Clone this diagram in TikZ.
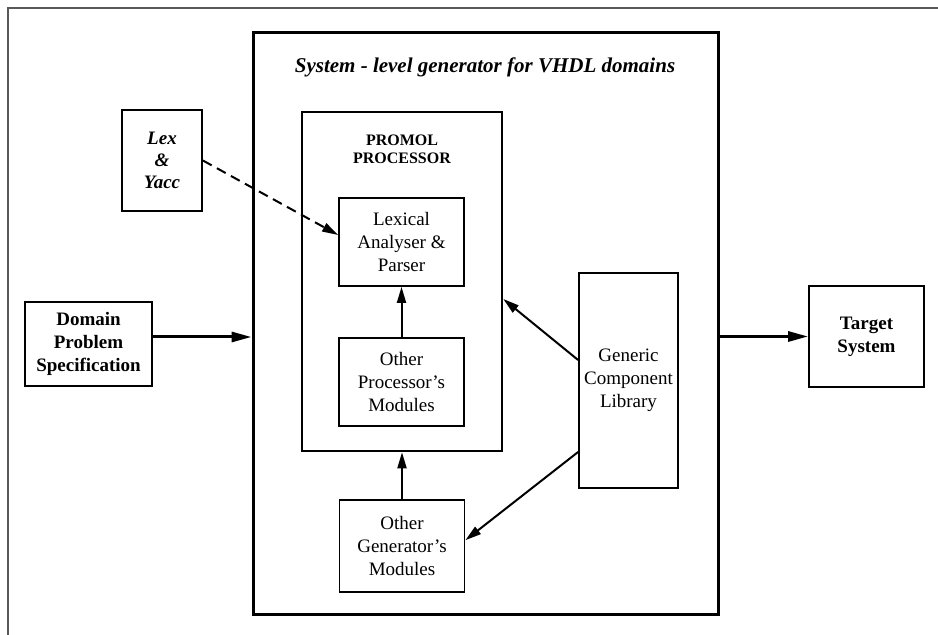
\documentclass[tikz,border=0pt]{standalone}
\usepackage{fontspec}
\setmainfont{Liberation Serif}
\usetikzlibrary{arrows.meta,positioning,calc}
\tikzset{
  basebox/.style={rectangle,draw=black,line width=0.9pt,align=center,
                  inner sep=2pt,font=\fontsize{9.5}{11.5}\selectfont},
  modnode/.style={basebox,minimum width=62.5pt,minimum height=44pt},
  boldnode/.style={basebox,font=\fontsize{9.5}{11.5}\selectfont\bfseries},
  toolnode/.style={basebox,font=\fontsize{9.5}{11}\selectfont\bfseries\itshape},
  sysbox/.style={rectangle,draw=black,line width=1.5pt},
  procbox/.style={rectangle,draw=black,line width=1.3pt},
  arr/.style={-{Triangle[length=8pt,width=4.5pt]},line width=1pt},
  thkarr/.style={-{Triangle[length=10pt,width=5pt]},line width=1.5pt},
  dasharr/.style={arr,dash pattern=on 5pt off 3pt}
}
\begin{document}
\begin{tikzpicture}[x=0.5pt,y=-0.5pt]

  \useasboundingbox (0,0) rectangle (938,635);
  \draw[black!65,line width=0.6pt] (8,635) -- (8,8) -- (938,8);

  % system level generator
  \node[sysbox,minimum width=232.5pt,minimum height=291pt] (big) at (485.5,324) {};
  \node[anchor=base,font=\fontsize{10.5}{12.5}\selectfont\bfseries\itshape] (title)
      at (485,73) {System - level generator for VHDL domains};

  % promol processor
  \node[procbox,minimum width=100pt,minimum height=169.5pt] (promol) at (402,281.5) {};
  \node[align=center,font=\fontsize{8}{9}\selectfont\bfseries] (promoltxt)
      at (402,149) {PROMOL\\PROCESSOR};

  \node[modnode] (lexical) at (401.5,242) {Lexical\\Analyser \&\\Parser};
  \node[modnode,below=25pt of lexical] (otherproc) {Other\\Processor's\\Modules};
  \node[modnode,minimum height=46pt,below=23.5pt of promol] (othergen)
      {Other\\Generator's\\Modules};

  \node[basebox,minimum width=49.5pt,minimum height=107.5pt] (generic)
      at (628.5,380.5) {Generic\\Component\\Library};

  % outside the generator
  \node[toolnode,minimum width=40pt,minimum height=50.5pt] (lexyacc)
      at (162,160.5) {Lex\\\&\\Yacc};
  \node[boldnode,minimum width=63.5pt,minimum height=42pt] (domain)
      at (88.5,344) {Domain\\Problem\\Specification};
  \node[boldnode,minimum width=57.5pt,minimum height=50.5pt] (target)
      at (866.5,336.5) {Target\\System};

  \draw[thkarr] ([yshift=3.5pt]domain.east) -- ([yshift=3.5pt]domain.east -| big.west);
  \draw[thkarr] (target.west -| big.east) -- (target.west);
  \draw[dasharr] (lexyacc.east) -- ([yshift=3.5pt]lexical.west);
  \draw[arr] (otherproc) -- (lexical);
  \draw[arr] (othergen) -- (promol);
  \draw[arr] ([yshift=10.25pt]generic.west) -- ([yshift=-8.75pt]promol.east);
  \draw[arr] ([yshift=-35.75pt]generic.west) -- ([yshift=3pt]othergen.east);

\end{tikzpicture}
\end{document}
